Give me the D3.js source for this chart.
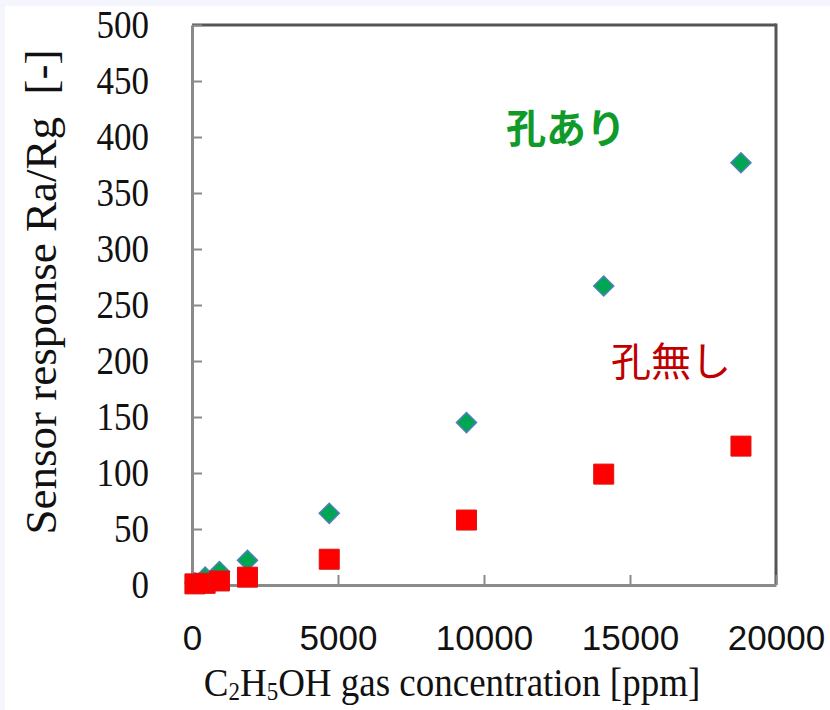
<!DOCTYPE html>
<html>
<head>
<meta charset="utf-8">
<script src="https://cdn.jsdelivr.net/npm/d3@7"></script>
<style>
html,body{margin:0;padding:0;background:#f5f5fd;}
svg{display:block;}
</style>
</head>
<body>
<svg id="chart" width="830" height="710"></svg>
<script>
// ---- data ----
const concentration = [100, 450, 940, 1900, 4700, 9400, 14100, 18800]; // ppm
const withHole = [2, 7, 12, 22, 64, 145, 267, 377];      // 孔あり
const withoutHole = [1, 1.5, 3.6, 7, 23, 58, 99, 124];   // 孔無し
const xTicks = [0, 5000, 10000, 15000, 20000];
const yTicks = [0, 50, 100, 150, 200, 250, 300, 350, 400, 450, 500];
const labelWith = "孔あり";
const labelWithout = "孔無し";

(function () {
const svg = d3.select("#chart");
const W = 830, H = 710;
const pL = 192, pR = 776, pT = 25, pB = 585;

svg.append("rect").attr("x", 5).attr("y", 6).attr("width", W - 5).attr("height", H - 6).attr("fill", "#ffffff");

const x = d3.scaleLinear().domain([0, 20000]).range([pL, pR]);
const y = d3.scaleLinear().domain([0, 500]).range([pB, pT]);

// frame top/right
svg.append("line").attr("x1", pL).attr("x2", pR).attr("y1", pT).attr("y2", pT)
  .attr("stroke", "#555").attr("stroke-width", 3);
svg.append("line").attr("x1", pR).attr("x2", pR).attr("y1", pT - 1.5).attr("y2", pB)
  .attr("stroke", "#555").attr("stroke-width", 3);

const yAxis = svg.append("g").attr("transform", `translate(${pL},0)`)
  .call(d3.axisLeft(y).tickValues(yTicks).tickSizeInner(-10).tickSizeOuter(0).tickPadding(43));
const xAxis = svg.append("g").attr("transform", `translate(0,${pB})`)
  .call(d3.axisBottom(x).tickValues(xTicks).tickFormat(d3.format("d"))
    .tickSizeInner(-10).tickSizeOuter(0).tickPadding(40));

[yAxis, xAxis].forEach(a => {
  a.select(".domain").attr("stroke", "#8a8a8a").attr("stroke-width", 3);
  a.selectAll(".tick line").attr("stroke", "#8a8a8a").attr("stroke-width", 2);
});
yAxis.selectAll(".tick text")
  .attr("font-family", "'Liberation Serif','Times New Roman',serif")
  .attr("font-size", 35).attr("fill", "#111")
  .attr("transform", "scale(1,1.14)");
xAxis.selectAll(".tick text")
  .attr("font-family", "'Liberation Sans',Arial,sans-serif")
  .attr("font-size", 35).attr("fill", "#111");

// axis titles
svg.append("text")
  .attr("transform", "translate(56,292) rotate(-90)")
  .attr("text-anchor", "middle")
  .attr("font-family", "'Liberation Serif','Times New Roman',serif")
  .attr("font-size", 45).attr("fill", "#111")
  .style("white-space", "pre")
  .text("Sensor response Ra/Rg  [-]");

const xt = svg.append("g").attr("transform", "translate(452,696) scale(1,1.1)")
  .append("text").attr("text-anchor", "middle")
  .attr("font-family", "'Liberation Serif','Times New Roman',serif")
  .attr("font-size", 37).attr("fill", "#111");
xt.append("tspan").text("C");
xt.append("tspan").attr("font-size", 23).attr("dy", 4).text("2");
xt.append("tspan").attr("dy", -4).text("H");
xt.append("tspan").attr("font-size", 23).attr("dy", 4).text("5");
xt.append("tspan").attr("dy", -4).text("OH gas concentration [ppm]");

// markers
const pts = concentration.map((c, i) => ({c, a: withHole[i], b: withoutHole[i]}));
const diamond = d3.symbol().type(d3.symbolSquare).size(200);
svg.append("g").selectAll("path").data(pts).join("path")
  .attr("d", diamond)
  .attr("transform", d => `translate(${x(d.c)},${y(d.a)}) rotate(45)`)
  .attr("fill", "#00a651").attr("stroke", "#4f7fb8").attr("stroke-width", 1.5);
const square = d3.symbol().type(d3.symbolSquare).size(400);
svg.append("g").selectAll("path").data(pts).join("path")
  .attr("d", square)
  .attr("transform", d => `translate(${x(d.c)},${y(d.b)})`)
  .attr("fill", "#ff0000").attr("stroke", "#e01010").attr("stroke-width", 1);

// labels
svg.append("text").attr("x", 566).attr("y", 143).attr("text-anchor", "middle")
  .attr("font-family", "'Noto Sans CJK JP',sans-serif").attr("font-weight", "bold")
  .attr("font-size", 40).attr("fill", "#109a2a").text(labelWith);
svg.append("text").attr("x", 671).attr("y", 376).attr("text-anchor", "middle")
  .attr("font-family", "'Noto Sans CJK JP',sans-serif")
  .attr("font-size", 40).attr("fill", "#c00000").text(labelWithout);
})();
</script>
</body>
</html>
